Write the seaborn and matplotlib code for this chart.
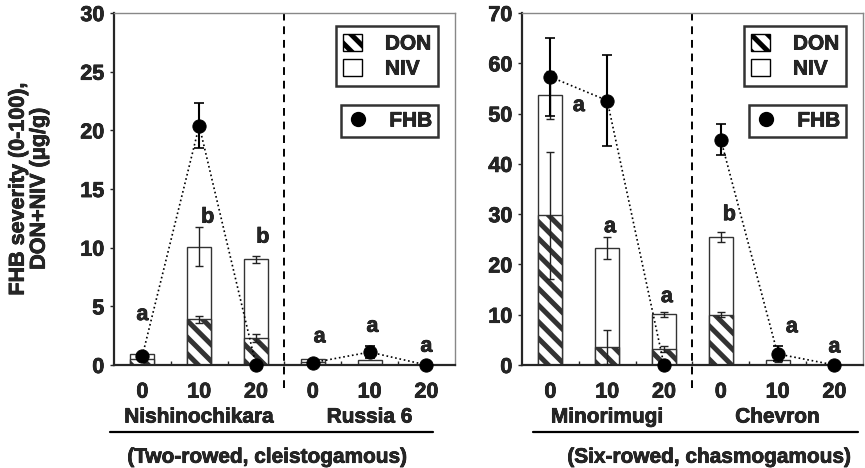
import numpy as np
import pandas as pd
import seaborn as sns
import matplotlib.pyplot as plt
from matplotlib.patches import Patch
from matplotlib.lines import Line2D
from matplotlib.text import Text
import matplotlib.patheffects as pe
import matplotlib.transforms as mtransforms

# data
doses = ["0", "10", "20"]
left_cultivars = ["Nishinochikara", "Russia 6"]
right_cultivars = ["Minorimugi", "Chevron"]

left_total = [0.9, 10.1, 9.0, 0.5, 0.4, 0.0]
left_total_err = [0.0, 1.7, 0.3, 0.0, 0.0, 0.0]
left_don = [0.5, 3.9, 2.3, 0.25, 0.1, 0.0]
left_don_err = [0.0, 0.3, 0.3, 0.0, 0.0, 0.0]
left_fhb = [0.8, 20.4, 0.0, 0.2, 1.1, 0.0]
left_fhb_err = [0.0, 1.9, 0.0, 0.0, 0.5, 0.0]
left_letters = ["a", "b", "b", "a", "a", "a"]

right_total = [53.7, 23.2, 10.1, 25.5, 0.9, 0.0]
right_total_err = [4.8, 2.2, 0.5, 1.0, 0.3, 0.0]
right_don = [29.8, 3.5, 3.1, 10.0, 0.0, 0.0]
right_don_err = [12.6, 3.4, 0.6, 0.5, 0.0, 0.0]
right_fhb = [57.3, 52.6, 0.0, 44.8, 2.2, 0.0]
right_fhb_err = [7.8, 9.0, 0.0, 3.1, 1.5, 0.0]
right_letters = ["a", "a", "a", "b", "a", "a"]

# where the letters sit (x offset in slots, y in data units)
left_letter_xy = [(0, 4.3), (0.15, 12.6), (0.12, 10.9), (0.12, 2.4), (0.05, 3.3), (0, 1.6)]
right_letter_xy = [(0.5, 51.6), (0.05, 27.5), (0.05, 13.6), (0.15, 29.9), (0.25, 7.6), (0, 3.6)]

sns.set_style("ticks")
plt.rcParams["font.family"] = ["Liberation Sans", "DejaVu Sans"]
plt.rcParams["font.weight"] = "bold"
plt.rcParams["hatch.linewidth"] = 3.6
FS = 15.5
FS2 = 15


def make_df(cultivars, total, total_err, don, don_err, fhb, fhb_err):
    return pd.DataFrame({
        "slot": list(range(6)),
        "cultivar": [cultivars[0]] * 3 + [cultivars[1]] * 3,
        "dose": doses * 2,
        "total": total, "total_err": total_err,
        "don": don, "don_err": don_err,
        "fhb": fhb, "fhb_err": fhb_err,
    })


def draw_panel(ax, df, ymax, ystep, letters, letter_xy, caption, line_x):
    sns.barplot(data=df, x="slot", y="total", ax=ax, color="white", saturation=1,
                edgecolor="#333333", linewidth=1.0, width=0.42, errorbar=None)
    sns.barplot(data=df, x="slot", y="don", ax=ax, color="white", saturation=1,
                edgecolor="#333333", linewidth=1.0, width=0.42, errorbar=None,
                hatch="\\\\")
    e = df[df.total_err > 0]
    ax.errorbar(e.slot, e.total, yerr=e.total_err, fmt="none", ecolor="#222222",
                elinewidth=1.0, capsize=3, capthick=1.0, zorder=4)
    e = df[df.don_err > 0]
    ax.errorbar(e.slot, e.don, yerr=e.don_err, fmt="none", ecolor="#222222",
                elinewidth=1.0, capsize=3, capthick=1.0, zorder=4)
    e = df[df.fhb_err > 0]
    ax.errorbar(e.slot, e.fhb, yerr=e.fhb_err, fmt="none", ecolor="black",
                elinewidth=1.5, capsize=3.5, capthick=1.2, zorder=5)
    sns.lineplot(data=df, x="slot", y="fhb", units="cultivar", estimator=None,
                 ax=ax, color="black", linestyle=":", linewidth=1.2,
                 marker="o", markersize=9.5, markeredgecolor="black",
                 zorder=6, clip_on=False, legend=False)

    trans = mtransforms.blended_transform_factory(ax.transData, ax.transAxes)
    ax.plot([2.5, 2.5], [-0.065, 1], transform=trans, color="black",
            linestyle=(0, (4, 3)), linewidth=1.4, zorder=1, clip_on=False)

    for i, (lab, (dx, yy)) in enumerate(zip(letters, letter_xy)):
        ax.text(i + dx, yy, lab, ha="center", va="center", fontsize=FS, fontweight="bold")

    ax.set_xlim(-0.5, 5.5)
    ax.set_ylim(0, ymax)
    ax.set_yticks(np.arange(0, ymax + 1, ystep))
    ax.set_xticks(range(6))
    ax.set_xticklabels(doses * 2)
    ax.set_xticks(np.arange(0.5, 5, 1), minor=True)
    ax.tick_params(axis="x", which="major", length=0, pad=12, labelsize=FS)
    ax.tick_params(axis="x", which="minor", direction="in", length=3, width=1)
    ax.tick_params(axis="y", length=3, width=1, pad=4, labelsize=FS)
    for lab in ax.get_xticklabels() + ax.get_yticklabels():
        lab.set_fontweight("bold")
    ax.set_xlabel("")
    ax.set_ylabel("")
    ax.spines["left"].set_linewidth(1.6)
    ax.spines["bottom"].set_linewidth(1.6)
    for s in ["top", "right"]:
        ax.spines[s].set_visible(True)
        ax.spines[s].set_color("#888888")
        ax.spines[s].set_linewidth(1.0)

    for x, name in zip([1, 4], df.cultivar.unique()):
        ax.text(x, -0.148, name, transform=trans, ha="center", va="center",
                fontsize=FS2, fontweight="bold")
    ax.plot(line_x, [-0.19, -0.19], transform=ax.transAxes, color="black",
            linewidth=1.6, clip_on=False)
    ax.text(caption[1], -0.262, caption[0], transform=ax.transAxes, ha="center",
            va="center", fontsize=FS2, fontweight="bold")

    h1 = [Patch(facecolor="white", edgecolor="black", hatch="\\\\", linewidth=1.0),
          Patch(facecolor="white", edgecolor="black", linewidth=1.0)]
    leg1 = ax.legend(h1, ["DON", "NIV"], loc="upper right", bbox_to_anchor=(0.952, 0.962),
                     frameon=True, fancybox=False, edgecolor="black",
                     prop={"size": FS2, "weight": "bold"},
                     handlelength=0.9, handleheight=0.9, handletextpad=1.1,
                     labelspacing=0.25, borderpad=0.35, borderaxespad=0)
    leg1.get_frame().set_linewidth(1.8)
    ax.add_artist(leg1)
    h2 = [Line2D([], [], color="black", marker="o", markersize=10, linestyle="none")]
    leg2 = ax.legend(h2, ["FHB"], loc="upper right", bbox_to_anchor=(0.952, 0.738),
                     frameon=True, fancybox=False, edgecolor="black",
                     prop={"size": FS2, "weight": "bold"},
                     handlelength=1.0, handletextpad=1.0, borderpad=0.3,
                     borderaxespad=0)
    leg2.get_frame().set_linewidth(1.8)


left_df = make_df(left_cultivars, left_total, left_total_err, left_don, left_don_err,
                  left_fhb, left_fhb_err)
right_df = make_df(right_cultivars, right_total, right_total_err, right_don, right_don_err,
                   right_fhb, right_fhb_err)

fig = plt.figure(figsize=(8.65, 4.68), dpi=100)
ax1 = fig.add_axes([0.1318, 0.2201, 0.394, 0.752])
ax2 = fig.add_axes([0.6035, 0.2201, 0.394, 0.752])

draw_panel(ax1, left_df, 30, 5, left_letters, left_letter_xy,
           ("(Two-rowed, cleistogamous)", 0.452), [-0.012, 0.935])
draw_panel(ax2, right_df, 70, 10, right_letters, right_letter_xy,
           ("(Six-rowed, chasmogamous)", 0.551), [0.032, 0.985])

ax1.set_ylabel("FHB severity (0-100),\nDON+NIV (μg/g)", fontsize=FS, fontweight="bold",
               labelpad=22, linespacing=1.0)

# slightly heavier strokes, as in the printed figure
for t in fig.findobj(Text):
    if t.get_text():
        t.set_path_effects([pe.withStroke(linewidth=0.5, foreground="black")])

fig.savefig("out.png", dpi=100)
